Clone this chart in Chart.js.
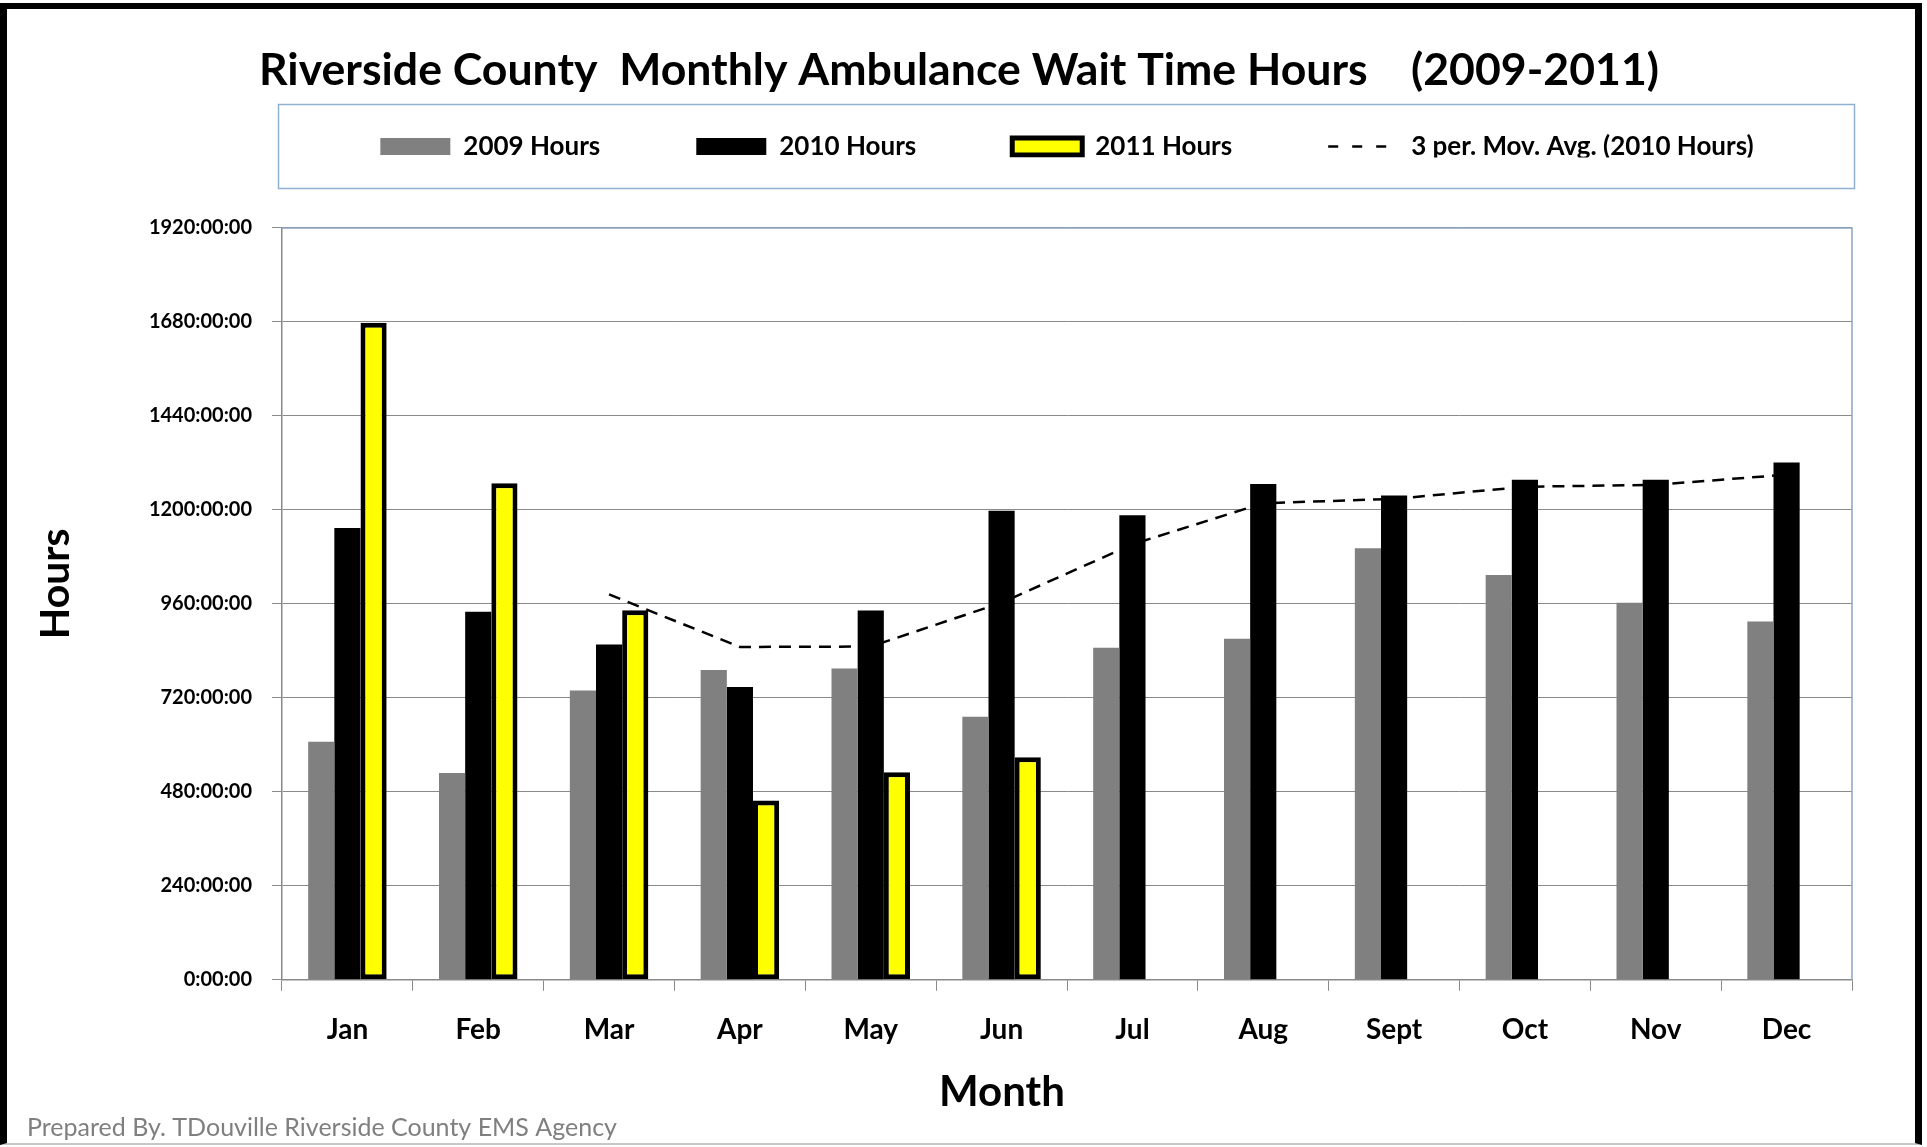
<!DOCTYPE html>
<html><head><meta charset="utf-8">
<script src="https://cdn.jsdelivr.net/npm/chart.js@4/dist/chart.umd.min.js"></script>
<style>
html,body{margin:0;padding:0;background:#fff;}
#wrap{position:relative;width:1927px;height:1147px;overflow:hidden;background:#fff;}
#frame{position:absolute;left:0;top:3px;width:1922px;height:1142px;box-sizing:border-box;border-style:solid;border-color:#000 #000 #c8c8c8 #000;border-width:6px 7px 2px 7px;pointer-events:none;}
canvas{position:absolute;left:0;top:0;}
</style></head><body>
<div id="wrap"><canvas id="c" width="1927" height="1147"></canvas><div id="frame"></div></div>
<script>
const months = ['Jan','Feb','Mar','Apr','May','Jun','Jul','Aug','Sept','Oct','Nov','Dec'];
const hours2009 = [608, 528, 739, 791, 795, 672, 848, 871, 1102, 1034, 963, 915];
const hours2010 = [1154, 940, 856, 748, 943, 1198, 1186, 1266, 1237, 1277, 1277, 1321];
const hours2011 = [1678, 1268, 944, 458, 530, 568, null, null, null, null, null, null];
const movAvg2010 = [null, null, 984, 850, 851, 963, 1112, 1217, 1228, 1259, 1264, 1290];
const yTickLabels = ['0:00:00','240:00:00','480:00:00','720:00:00','960:00:00','1200:00:00','1440:00:00','1680:00:00','1920:00:00'];
const seriesNames = ['2009 Hours','2010 Hours','2011 Hours','3 per. Mov. Avg. (2010 Hours)'];
const titleText = 'Riverside County  Monthly Ambulance Wait Time Hours    (2009-2011)';
const footerText = 'Prepared By. TDouville Riverside County EMS Agency';

const FONT = 'Lato';
const LEGEND_FRAME = {x:278.5, y:104.5, w:1576, h:84};
const X_TITLE_SHIFT = [-65, 5];
const Y_TITLE_SHIFT = [0, -20];

function shiftTitle(scale, dx, dy) {
  if (!scale || scale._titleShifted) return;
  const orig = scale.drawTitle;
  scale.drawTitle = function() {
    const ctx = this.ctx;
    ctx.save();
    ctx.translate(dx, dy);
    orig.apply(this, arguments);
    ctx.restore();
  };
  scale._titleShifted = true;
}

const decor = {
  id: 'decor',
  afterLayout(chart) {
    const lg = chart.legend, ca = chart.chartArea;
    if (lg) {
      lg.left = ca.left - 25; lg.right = ca.right + 25; lg.width = lg.right - lg.left;
      const lp = lg.options.labels.padding;
      const fs = lg.options.labels.font.size;
      lg.top = LEGEND_FRAME.y + LEGEND_FRAME.h / 2 - lp - fs / 2;
      lg.bottom = lg.top + lg.height;
    }
    const tb = chart.titleBlock;
    if (tb) { tb.left = 0; tb.right = 1918; tb.width = 1918; }
    shiftTitle(chart.scales.x, X_TITLE_SHIFT[0], X_TITLE_SHIFT[1]);
    shiftTitle(chart.scales.y, Y_TITLE_SHIFT[0], Y_TITLE_SHIFT[1]);
  },
  beforeDraw(chart) {
    const ctx = chart.ctx;
    ctx.save();
    ctx.fillStyle = '#fff';
    ctx.fillRect(0, 0, chart.width, chart.height);
    ctx.strokeStyle = '#8fb0d0';
    ctx.lineWidth = 1.5;
    ctx.strokeRect(LEGEND_FRAME.x, LEGEND_FRAME.y, LEGEND_FRAME.w, LEGEND_FRAME.h);
    ctx.restore();
  },
  beforeDatasetsDraw(chart) {
    const ctx = chart.ctx, ca = chart.chartArea;
    ctx.save();
    ctx.strokeStyle = '#8aa6c4';
    ctx.lineWidth = 1.5;
    ctx.beginPath();
    ctx.moveTo(ca.left, ca.top);
    ctx.lineTo(ca.right, ca.top);
    ctx.lineTo(ca.right, ca.bottom);
    ctx.stroke();
    ctx.restore();
  }
};

new Chart(document.getElementById('c'), {
  type: 'bar',
  data: {
    labels: months,
    datasets: [
      { label: seriesNames[0], data: hours2009, backgroundColor: '#808080', borderWidth: 0 },
      { label: seriesNames[1], data: hours2010, backgroundColor: '#000000', borderWidth: 0 },
      { label: seriesNames[2], data: hours2011, backgroundColor: '#ffff00', borderColor: '#000000', borderWidth: 5, borderSkipped: false },
      { type: 'line', label: seriesNames[3], data: movAvg2010, borderColor: '#000000', backgroundColor: '#000000',
        borderWidth: 2.5, borderDash: [12, 8], pointRadius: 0, pointHoverRadius: 0, tension: 0, order: -1, fill: false }
    ]
  },
  options: {
    responsive: false,
    devicePixelRatio: 1,
    animation: false,
    datasets: { bar: { categoryPercentage: 0.6, barPercentage: 1.0 } },
    layout: { padding: { left: 27, right: 75, top: 0, bottom: 0 } },
    plugins: {
      title: { display: true, text: titleText, color: '#000',
        font: { family: FONT, weight: 'bold', size: 44.6 }, padding: { top: 44.2, bottom: 10.2 } },
      subtitle: { display: true, position: 'bottom', align: 'start', text: footerText, color: '#7f7f7f',
        font: { family: FONT, size: 25, weight: 'normal' }, padding: { top: 0, bottom: 4 } },
      legend: {
        position: 'top',
        maxHeight: 120,
        labels: {
          usePointStyle: true, pointStyleWidth: 70, boxHeight: 17,
          padding: 96, color: '#000',
          font: { family: FONT, weight: 'bold', size: 26 },
          sort: (a, b) => a.datasetIndex - b.datasetIndex,
          generateLabels(chart) {
            const items = Chart.defaults.plugins.legend.labels.generateLabels(chart);
            items.forEach(it => {
              const ds = chart.data.datasets[it.datasetIndex];
              if (ds.type === 'line') {
                it.pointStyle = 'line'; it.lineWidth = 2.5; it.lineDash = [10, 14]; it.strokeStyle = '#000';
              } else {
                it.pointStyle = 'rect';
              }
            });
            return items;
          }
        }
      },
      tooltip: { enabled: false }
    },
    scales: {
      x: {
        grid: { display: true, drawOnChartArea: false, drawTicks: true, tickLength: 11, color: '#8a8a8a', offset: true },
        border: { display: true, color: '#8a8a8a', width: 1.5 },
        ticks: { font: { family: FONT, weight: 'bold', size: 28 }, color: '#000', padding: 22, maxRotation: 0, autoSkip: false },
        title: { display: true, text: 'Month', color: '#000', font: { family: FONT, weight: 'bold', size: 42 }, padding: { top: 0, bottom: 0 } },
        afterFit(s) { s.height = 133.2; }
      },
      y: {
        min: 0, max: 1920,
        ticks: { stepSize: 240, callback: (v, i) => yTickLabels[i], color: '#000',
          font: { family: FONT, weight: 'bold', size: 20 }, padding: 20 },
        grid: { color: '#8a8a8a', lineWidth: 1, tickLength: 10, drawTicks: true },
        border: { display: true, color: '#8a8a8a', width: 1.5 },
        title: { display: true, text: 'Hours', color: '#000', font: { family: FONT, weight: 'bold', size: 41 }, padding: { top: 4.4, bottom: 0 } },
        afterFit(s) { s.width = 255; }
      }
    }
  },
  plugins: [decor]
});
</script>
</body></html>
